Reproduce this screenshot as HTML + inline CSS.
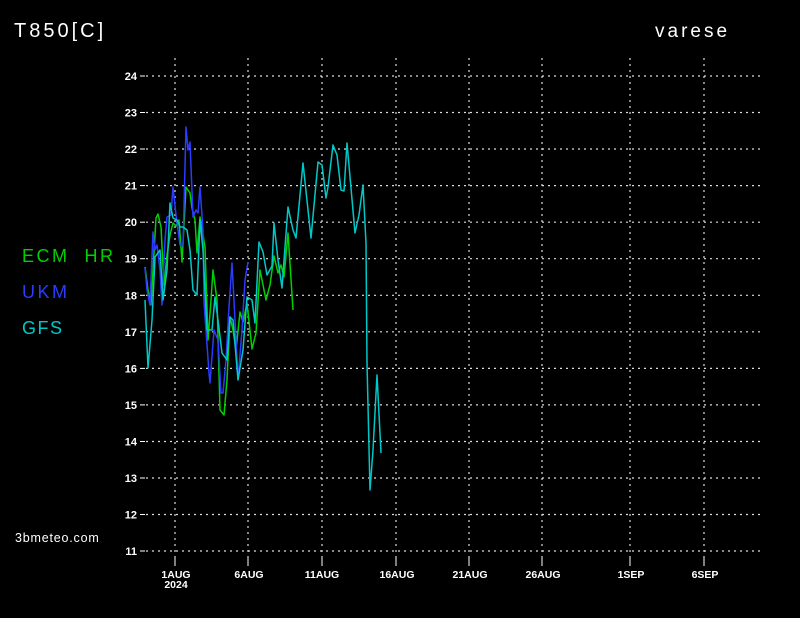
<!DOCTYPE html>
<html><head><style>
html,body{margin:0;padding:0;background:#000;}
svg{display:block;}
text{font-family:"Liberation Sans",sans-serif;}
</style></head><body>
<svg width="800" height="618" viewBox="0 0 800 618">
<rect width="800" height="618" fill="#000"/>
<text x="14" y="37" font-size="20" fill="#fff" letter-spacing="3">T850[C]</text>
<text x="655" y="37" font-size="19" fill="#fff" letter-spacing="3">varese</text>
<text x="22" y="262" font-size="18" fill="#00d000" letter-spacing="2.5" xml:space="preserve">ECM  HR</text>
<text x="22" y="298" font-size="18" fill="#2a3cff" letter-spacing="2.5">UKM</text>
<text x="22" y="334" font-size="18" fill="#00c8c8" letter-spacing="1.5">GFS</text>
<text x="15" y="542" font-size="12.5" fill="#fff" letter-spacing="0.8">3bmeteo.com</text>
<g stroke="#ddd" stroke-width="1.2" stroke-dasharray="2,4">
<line x1="146" y1="76" x2="762" y2="76"/><line x1="146" y1="112.5" x2="762" y2="112.5"/>
<line x1="146" y1="149" x2="762" y2="149"/><line x1="146" y1="185.6" x2="762" y2="185.6"/>
<line x1="146" y1="222.2" x2="762" y2="222.2"/><line x1="146" y1="258.7" x2="762" y2="258.7"/>
<line x1="146" y1="295.3" x2="762" y2="295.3"/><line x1="146" y1="331.8" x2="762" y2="331.8"/>
<line x1="146" y1="368.4" x2="762" y2="368.4"/><line x1="146" y1="404.9" x2="762" y2="404.9"/>
<line x1="146" y1="441.5" x2="762" y2="441.5"/><line x1="146" y1="478" x2="762" y2="478"/>
<line x1="146" y1="514.5" x2="762" y2="514.5"/><line x1="146" y1="551" x2="762" y2="551"/>
<line x1="175" y1="58" x2="175" y2="558"/><line x1="248" y1="58" x2="248" y2="558"/>
<line x1="322" y1="58" x2="322" y2="558"/><line x1="396" y1="58" x2="396" y2="558"/>
<line x1="469" y1="58" x2="469" y2="558"/><line x1="542" y1="58" x2="542" y2="558"/>
<line x1="630" y1="58" x2="630" y2="558"/><line x1="704" y1="58" x2="704" y2="558"/>
</g>
<g stroke="#fff" stroke-width="1">
<line x1="140" y1="76" x2="145" y2="76"/><line x1="140" y1="112.5" x2="145" y2="112.5"/><line x1="140" y1="149" x2="145" y2="149"/><line x1="140" y1="185.6" x2="145" y2="185.6"/><line x1="140" y1="222.2" x2="145" y2="222.2"/><line x1="140" y1="258.7" x2="145" y2="258.7"/><line x1="140" y1="295.3" x2="145" y2="295.3"/><line x1="140" y1="331.8" x2="145" y2="331.8"/><line x1="140" y1="368.4" x2="145" y2="368.4"/><line x1="140" y1="404.9" x2="145" y2="404.9"/><line x1="140" y1="441.5" x2="145" y2="441.5"/><line x1="140" y1="478" x2="145" y2="478"/><line x1="140" y1="514.5" x2="145" y2="514.5"/><line x1="140" y1="551" x2="145" y2="551"/>
<line x1="175" y1="558" x2="175" y2="566"/><line x1="248" y1="558" x2="248" y2="566"/><line x1="322" y1="558" x2="322" y2="566"/><line x1="396" y1="558" x2="396" y2="566"/><line x1="469" y1="558" x2="469" y2="566"/><line x1="542" y1="558" x2="542" y2="566"/><line x1="630" y1="558" x2="630" y2="566"/><line x1="704" y1="558" x2="704" y2="566"/>
</g>
<g font-size="11" font-weight="bold" fill="#fff" text-anchor="end">
<text x="137" y="80">24</text><text x="137" y="116.5">23</text><text x="137" y="153">22</text><text x="137" y="189.6">21</text><text x="137" y="226.2">20</text><text x="137" y="262.7">19</text><text x="137" y="299.3">18</text><text x="137" y="335.8">17</text><text x="137" y="372.4">16</text><text x="137" y="408.9">15</text><text x="137" y="445.5">14</text><text x="137" y="482">13</text><text x="137" y="518.5">12</text><text x="137" y="555">11</text>
</g>
<g font-size="10.5" font-weight="bold" fill="#fff" text-anchor="middle">
<text x="176" y="578">1AUG</text><text x="176" y="588">2024</text>
<text x="249" y="578">6AUG</text><text x="322" y="578">11AUG</text><text x="397" y="578">16AUG</text><text x="470" y="578">21AUG</text><text x="543" y="578">26AUG</text><text x="631" y="578">1SEP</text><text x="705" y="578">6SEP</text>
</g>
<g fill="none" stroke-width="1.5" stroke-linejoin="round">
<polyline stroke="#00d000" points="145,267 148,290 151,305 153,270 156,218 158,214 161,227 164,285 167,255 170,235 173,223 176,226 179,220 182,262 186,187 190,193 192,208 195,220 197,253 200,217 205,247 208,340 211,300 213,270 217,300 220,410 224,415 227,380 230,317 233,330 236,350 240,312 243,322 247,303 252,349 256,333 260,270 266,300 270,285 274,256 278,273 281,265 284,277 288,233 293,310"/>
<polyline stroke="#2a3cff" points="145,268 147,290 150,305 153,232 155,250 157,245 160,270 162,305 165,240 167,217 171,215 173,187 176,215 180,245 183,246 186,127 188,150 190,142 193,217 196,210 198,213 200,187 203,230 204,302 209,373 210,383 214,330 218,340 221,393 223,393 226,360 229,307 232,263 235,320 238,380 242,330 245,280 248,262"/>
<polyline stroke="#00c8c8" points="145,300 148,368 152,320 155,257 160,250 163,300 167,270 170,203 173,218 177,220 180,227 183,227 187,230 190,250 193,290 197,295 200,220 203,250 207,330 212,330 215,297 218,320 222,353 227,360 230,317 233,320 237,368 238,380 243,350 247,297 252,300 255,323 259,242 263,252 267,275 272,266 274,223 278,260 282,288 285,247 288,207 293,230 296,238 303,163 311,238 318,162 322,165 326,198 328,187 333,145 337,155 341,190 344,191 347,143 355,233 359,215 363,185 366,243 367,363 370,490 373,450 377,375 381,453"/>
</g>
</svg>
</body></html>
